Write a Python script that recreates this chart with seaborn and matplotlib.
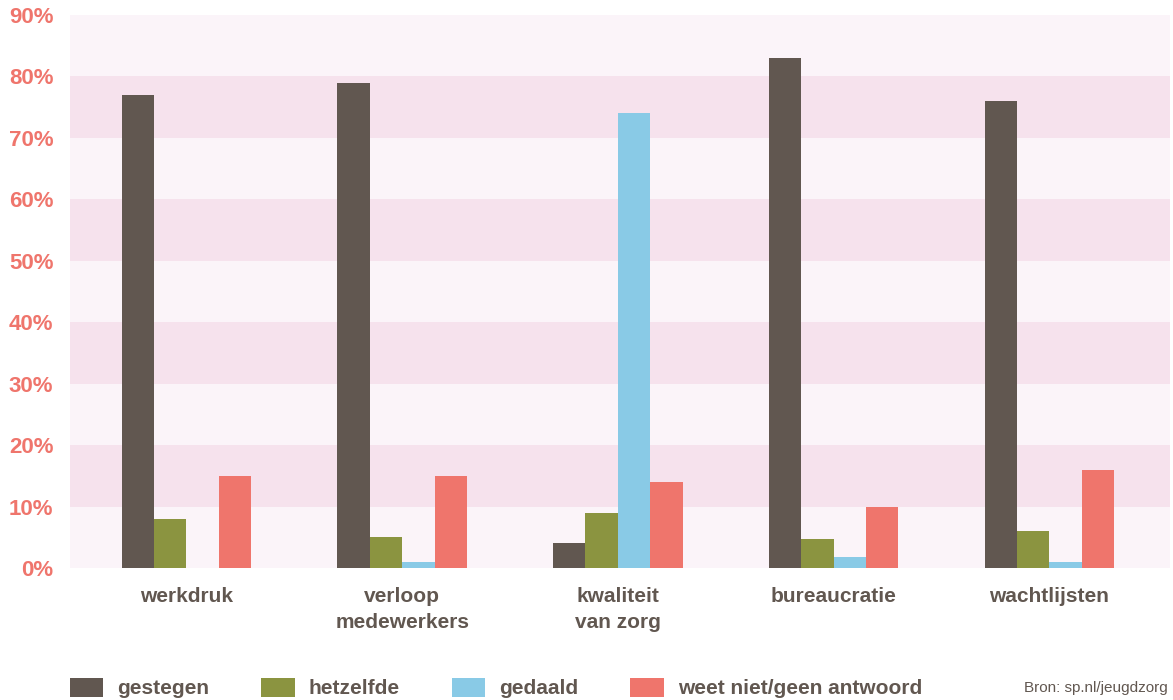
import matplotlib
matplotlib.use("Agg")
import matplotlib.pyplot as plt
import seaborn as sns
import pandas as pd
from matplotlib.patches import Patch

categories = ["werkdruk", "verloop\nmedewerkers", "kwaliteit\nvan zorg", "bureaucratie", "wachtlijsten"]
series = ["gestegen", "hetzelfde", "gedaald", "weet niet/geen antwoord"]
gestegen = [77, 79, 4, 83, 76]
hetzelfde = [8, 5, 9, 4.7, 6]
gedaald = [0, 1, 74, 1.8, 1]
weet_niet = [15, 15, 14, 10, 16]
yticks = [0, 10, 20, 30, 40, 50, 60, 70, 80, 90]
source = "Bron: sp.nl/jeugdzorg"

colors = ["#615750", "#8b9440", "#89cae6", "#ef756c"]
label_color = "#615750"
ytick_color = "#ef756c"

rows = []
for name, vals in zip(series, [gestegen, hetzelfde, gedaald, weet_niet]):
    for c, v in zip(categories, vals):
        rows.append({"cat": c, "serie": name, "val": v})
df = pd.DataFrame(rows)

sns.set_theme(style="white")
FONT = ["Liberation Sans", "DejaVu Sans"]
plt.rcParams["font.family"] = FONT

fig = plt.figure(figsize=(11.73, 7.0), dpi=100)
ax = fig.add_axes([70 / 1173, 132 / 700, 1100 / 1173, 553 / 700])

# background bands
for i, lo in enumerate(yticks):
    ax.axhspan(lo, lo + 10, color="#f6e2ed" if i % 2 == 1 else "#fbf4f9", lw=0, zorder=0)

sns.barplot(data=df, x="cat", y="val", hue="serie", palette=colors, width=0.6,
            gap=0, ax=ax, legend=False, linewidth=0, saturation=1, zorder=2)

ax.set_xlim(-0.54, 4.56)
ax.set_ylim(0, 90)
ax.set_yticks(yticks)
ax.set_yticklabels([f"{t}%" for t in yticks])
ax.set_xlabel("")
ax.set_ylabel("")
for s in ax.spines.values():
    s.set_visible(False)
ax.tick_params(axis="both", length=0)
ax.tick_params(axis="y", pad=12)
ax.tick_params(axis="x", pad=14)
for t in ax.get_yticklabels():
    t.set_color(ytick_color)
    t.set_fontweight("bold")
    t.set_fontsize(16)
for t in ax.get_xticklabels():
    t.set_color(label_color)
    t.set_fontweight("bold")
    t.set_fontsize(15)
    t.set_linespacing(1.45)
ax.grid(False)

handles = [Patch(facecolor=c, edgecolor="none") for c in colors]
leg = fig.legend(handles, series, loc="center left", bbox_to_anchor=(70 / 1173, 12 / 700),
                 ncol=4, frameon=False, handlelength=1.6, handleheight=1.05,
                 columnspacing=2.5, handletextpad=0.67, borderaxespad=0, borderpad=0,
                 prop={"family": FONT, "weight": "bold", "size": 15})
for t in leg.get_texts():
    t.set_color(label_color)

fig.text(1168 / 1173, 12 / 700, source, ha="right", va="center", fontsize=11,
         color=label_color)

fig.savefig("out.png", dpi=100)
